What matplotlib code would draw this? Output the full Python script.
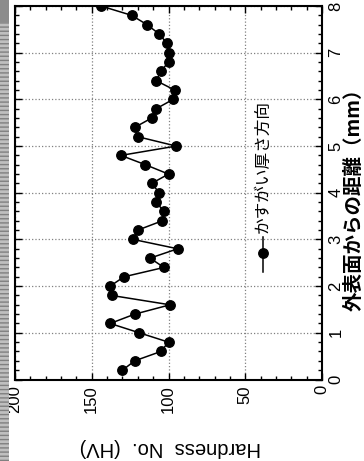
import matplotlib
matplotlib.use('Agg')
import matplotlib.pyplot as plt
from matplotlib.patches import Rectangle
from matplotlib.lines import Line2D
from matplotlib.ticker import MultipleLocator

# Данные: расстояние от внешней поверхности (мм) и твёрдость (HV)
distance = [0.2, 0.4, 0.6, 0.8, 1.0, 1.2, 1.4, 1.6, 1.8, 2.0,
            2.2, 2.4, 2.6, 2.8, 3.0, 3.2, 3.4, 3.6, 3.8, 4.0,
            4.2, 4.4, 4.6, 4.8, 5.0, 5.2, 5.4, 5.6, 5.8, 6.0,
            6.2, 6.4, 6.6, 6.8, 7.0, 7.2, 7.4, 7.6, 7.8, 8.0]
hardness = [130, 122, 105, 100, 119, 138, 122, 99, 137, 138,
            129, 103, 112, 94, 123, 120, 104, 103, 108, 106,
            111, 100, 115, 131, 95, 120, 122, 111, 108, 97,
            96, 108, 105, 100, 100, 101, 106, 114, 124, 144]
series_label = 'かすがい厚さ方向'
x_label = '外表面からの距離（mm）'
y_label = 'Hardness  No.  (HV)'
hardness_ticks = [0, 50, 100, 150, 200]
distance_ticks = [0, 1, 2, 3, 4, 5, 6, 7, 8]

plt.rcParams['font.family'] = ['Liberation Sans', 'DejaVu Sans']
cjk = ['Noto Sans CJK JP', 'DejaVu Sans']

fig = plt.figure(figsize=(3.64, 4.61), dpi=100)
fig.patch.set_facecolor('white')

# Скан повёрнут на 90°: твёрдость идёт по горизонтали (справа налево), расстояние -- снизу вверх
ax = fig.add_axes([15 / 364, 1 - 379.5 / 461, 307 / 364, 373.5 / 461])
ax.plot(hardness, distance, '-o', color='black', lw=1.1, ms=6.8)

ax.set_xlim(200, 0)
ax.set_ylim(0, 8)
ax.set_xticks(hardness_ticks)
ax.set_yticks(distance_ticks)
ax.xaxis.set_minor_locator(MultipleLocator(10))
ax.yaxis.set_minor_locator(MultipleLocator(0.2))
ax.yaxis.tick_right()
ax.tick_params(which='both', direction='in', top=True, bottom=True, left=True, right=True,
               width=1.0, labelsize=12)
ax.tick_params(which='major', length=5)
ax.tick_params(which='minor', length=3)
ax.tick_params(axis='x', labelrotation=90, pad=4)
ax.tick_params(axis='y', labelrotation=90, pad=4.5)
for lbl in ax.get_yticklabels():
    lbl.set_va('center')
for s in ax.spines.values():
    s.set_linewidth(1.5)
ax.grid(True, which='major', ls=':', color='0.5', lw=0.9)

# Легенда вручную (текст повёрнут)
lx = 0.808
ax.add_line(Line2D([lx, lx], [0.288, 0.3815], transform=ax.transAxes, color='black', lw=1.1))
ax.add_line(Line2D([lx], [0.3387], transform=ax.transAxes, marker='o', color='black', ms=6.8))
ax.text(lx, 0.392, series_label, transform=ax.transAxes, rotation=90, ha='center', va='bottom',
        fontsize=12, family=cjk)

# Подписи осей
fig.text(354.5 / 364, 1 - 195 / 461, x_label, rotation=90, ha='center', va='center',
         fontsize=14, fontweight='bold', family=cjk)
fig.text(170 / 364, 1 - 447 / 461, y_label, rotation=180, ha='center', va='center', fontsize=14.5)

# Полоса от сканера слева
fig.patches.append(Rectangle((0, 0), 9 / 364, 1 - 22 / 461, transform=fig.transFigure,
                             facecolor='0.75', edgecolor='0.5', hatch='----', lw=0))
fig.patches.append(Rectangle((0, 1 - 22 / 461), 9 / 364, 22 / 461, transform=fig.transFigure,
                             facecolor='0.55', lw=0))

fig.savefig('out.png', dpi=100)
